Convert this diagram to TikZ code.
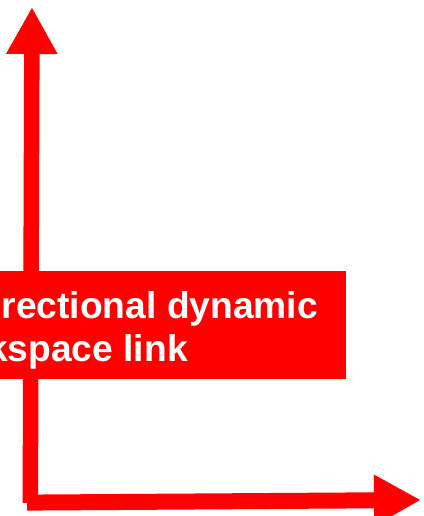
\documentclass[tikz,border=0pt]{standalone}
\usepackage{fontspec}
\setmainfont{Liberation Sans}
\usetikzlibrary{arrows.meta}
\begin{document}
\begin{tikzpicture}[x=1pt,y=-1pt,
  axis/.style={draw=red, line width=15.5pt,
    -{Triangle[length=47pt,width=48pt]}},
  banner/.style={fill=red, draw=none},
  bannertext/.style={text=white, font=\fontsize{37.2}{44}\selectfont\bfseries,
    anchor=base west, inner sep=0pt}
]
\useasboundingbox (0,0) rectangle (423,516);
% axis end points
\coordinate (ybase) at (30.3,503);
\coordinate (ytip)  at (32,7);
\coordinate (xbase) at (27,502.6);
\coordinate (xtip)  at (421,500);
\draw[axis] (ybase) -- (ytip);
\draw[axis, line width=16pt] (xbase) -- (xtip);
% label banner on top of the vertical axis
\fill[banner] (-20,270.7) rectangle (346,379.3);
\node[bannertext] (l1) at (1.5,318) {rectional dynamic};
\node[bannertext] (l2) at (-13,361.5) {kspace link};
\end{tikzpicture}
\end{document}
